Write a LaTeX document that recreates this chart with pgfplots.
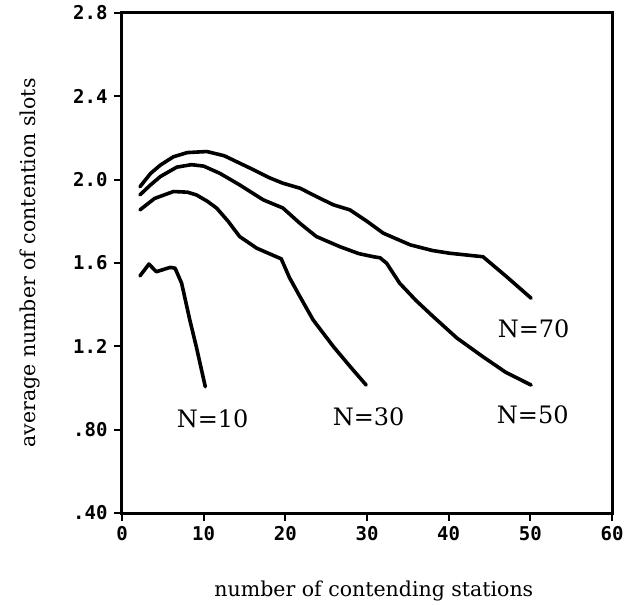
\documentclass[border=0pt]{standalone}
\usepackage{fontspec}
\setmainfont{DejaVu Serif}
\setmonofont{DejaVu Sans Mono}
\usepackage{pgfplots}
\pgfplotsset{compat=1.18}

\begin{document}
\begin{tikzpicture}
\begin{axis}[
  name=ax,
  scale only axis,
  width=490pt, height=500pt,
  xmin=0, xmax=60, ymin=0.4, ymax=2.8,
  xtick={0,10,20,30,40,50,60},
  xticklabels={0,10,20,30,40,50,60},
  ytick={0.4,0.8,1.2,1.6,2.0,2.4,2.8},
  yticklabels={.40,.80,1.2,1.6,2.0,2.4,2.8},
  /pgf/number format/assume math mode=true,
  tick pos=left, tick align=outside,
  major tick length=8pt,
  axis line style={line width=3pt},
  every tick/.style={line width=2pt, black},
  ticklabel style={font=\ttfamily\bfseries\fontsize{19}{19}\selectfont},
  xticklabel style={yshift=-2pt},
  yticklabel style={xshift=-3pt},
  xlabel={number of contending stations},
  ylabel={average number of contention slots},
  xlabel style={font=\fontsize{20.5}{21}\selectfont, at={(axis description cs:0.514,-0.155)}, anchor=center},
  ylabel style={font=\fontsize{20.5}{21}\selectfont, at={(axis description cs:-0.188,0.5)}, anchor=center},
]
% N=70
\addplot[black, line width=3.6pt, line join=round, line cap=round] coordinates {
  (2.2,1.966) (3.5,2.03) (4.7,2.07) (6.3,2.11) (8,2.13) (10.4,2.135)
  (12.5,2.115) (15.7,2.055) (18,2.01) (19.7,1.983) (21.8,1.959) (24,1.915)
  (25.9,1.879) (27.9,1.855) (30,1.80) (32,1.743) (35.3,1.687) (38,1.66)
  (40.1,1.647) (44.2,1.630) (47.1,1.534) (50.1,1.431)
};
% N=50
\addplot[black, line width=3.6pt, line join=round, line cap=round] coordinates {
  (2.2,1.927) (3.5,1.975) (4.7,2.015) (6.7,2.06) (8.5,2.072) (10,2.065)
  (12,2.03) (14.4,1.975) (17.3,1.903) (19.7,1.864) (21.8,1.79) (23.8,1.727)
  (26.7,1.678) (29,1.645) (30.8,1.630) (31.6,1.625) (32.4,1.599) (34,1.503)
  (36,1.42) (38.1,1.343) (41,1.24) (44.2,1.150) (47,1.075) (50.1,1.014)
};
% N=30
\addplot[black, line width=3.6pt, line join=round, line cap=round] coordinates {
  (2.2,1.855) (4,1.91) (6.3,1.943) (8,1.94) (9.1,1.927) (10.5,1.895)
  (11.6,1.863) (13,1.80) (14.4,1.727) (16.5,1.671) (18.9,1.630) (19.5,1.62)
  (20.5,1.53) (21.8,1.438) (23.4,1.327) (25.9,1.198) (28,1.10) (29.9,1.014)
};
% N=10
\addplot[black, line width=3.6pt, line join=round, line cap=round] coordinates {
  (2.2,1.538) (3.3,1.595) (4.2,1.558) (5.9,1.579) (6.5,1.575) (7.3,1.503)
  (8.3,1.327) (9.1,1.198) (10.2,1.006)
};
\node[font=\fontsize{24}{24}\selectfont] at (axis cs:11.1,0.851) {N=10};
\node[font=\fontsize{24}{24}\selectfont] at (axis cs:30.2,0.861) {N=30};
\node[font=\fontsize{24}{24}\selectfont] at (axis cs:50.3,0.870) {N=50};
\node[font=\fontsize{24}{24}\selectfont] at (axis cs:50.4,1.283) {N=70};
\end{axis}
\path ([xshift=-122pt,yshift=-91pt]ax.south west) rectangle ([xshift=16pt,yshift=13pt]ax.north east);
\end{tikzpicture}
\end{document}
